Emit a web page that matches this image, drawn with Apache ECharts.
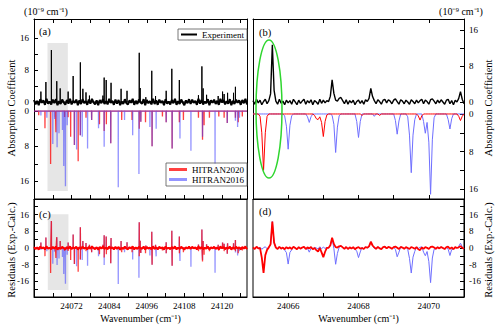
<!DOCTYPE html>
<html>
<head>
<meta charset="utf-8"/>
<script src="https://cdn.jsdelivr.net/npm/echarts@6/dist/echarts.min.js"></script>
<style>
  html, body { margin: 0; padding: 0; background: #fff; }
  #chart { width: 500px; height: 329px; }
</style>
</head>
<body>
<div id="chart"></div>
<script type="text/javascript">
// ---- data ----
// overview (panels a, c): line centre (cm-1) and height (1e-9 cm-1)
var expPeaksA = [[24062.2,2.6],[24063.8,5.0],[24065.55,13.0],[24067.27,5.2],[24068.36,3.4],[24070.9,2.6],
  [24072.5,6.5],[24074.8,9.9],[24075.6,3.3],[24076.6,2.4],[24077.7,1.6],[24082.0,1.6],[24082.4,6.1],
  [24083.05,5.5],[24084.6,4.8],[24087.8,3.3],[24089.7,2.8],[24093.6,12.3],[24093.9,3.5],[24095.7,1.2],
  [24097.6,7.8],[24098.8,1.5],[24102.2,2.8],[24104.0,8.3],[24106.4,5.5],[24112.5,1.7],[24113.6,8.9],
  [24114.0,3.4],[24115.1,1.8],[24118.8,1.5],[24120.2,2.6],[24120.7,2.0],[24121.8,2.3],[24123.7,2.3],[24124.3,3.8]];
var hit20A = [[24061.5,0.9],[24063.5,3.9],[24065.3,12.0],[24066.82,1.3],[24067.0,4.8],[24069.77,1.3],[24070.89,1.4],
  [24071.7,5.8],[24072.9,7.7],[24074.1,11.4],[24074.8,5.5],[24076.6,1.5],[24078.4,2.0],[24080.9,3.0],[24082.4,4.5],
  [24083.1,3.0],[24084.5,7.3],[24088.0,2.0],[24091.3,2.0],[24093.6,4.0],[24094.1,2.4],[24095.6,2.5],[24097.7,8.0],
  [24101.0,1.2],[24102.2,2.5],[24104.1,8.5],[24106.4,2.5],[24107.7,2.0],[24112.5,1.5],[24113.8,6.5],[24114.3,3.2],
  [24116.0,1.5],[24119.0,1.2],[24120.7,1.5],[24121.7,2.7],[24124.3,1.5],[24125.2,2.5],[24126.5,1.2]];
var hit16A = [[24062.2,1.0],[24064.1,1.5],[24066.0,7.5],[24066.6,1.8],[24067.37,8.2],[24067.98,5.0],[24069.09,4.3],
  [24069.5,12.5],[24069.89,4.1],[24070.04,17.1],[24070.6,3.2],[24072.9,7.7],[24073.6,8.7],[24074.8,5.5],[24075.4,5.8],
  [24077.1,8.5],[24078.4,2.0],[24080.6,3.9],[24082.4,8.1],[24084.5,7.3],[24086.9,17.3],[24088.9,2.0],[24091.5,5.5],
  [24093.5,14.3],[24094.1,2.4],[24097.0,3.6],[24097.7,8.0],[24099.0,4.0],[24102.2,2.5],[24104.1,8.5],[24106.6,6.2],
  [24110.1,9.0],[24113.8,5.8],[24117.8,11.9],[24121.7,2.7],[24124.3,2.2],[24125.0,3.6],[24125.6,1.5]];
// experimental baseline noise, every 0.5 cm-1 from 24060
var noiseA = [
  0.5,-0.6,0.3,-0.8,0.7,-0.2,0.4,-0.7,0.8,-0.4,0.1,-0.6,0.6,-0.3,0.7,-0.8,0.2,-0.5,0.6,-0.1,
  -0.7,0.5,-0.4,0.8,-0.6,0.3,-0.2,0.6,-0.8,0.4,-0.5,0.7,-0.3,0.2,-0.7,0.6,-0.4,0.8,-0.1,-0.6,
  0.4,-0.8,0.5,-0.3,0.7,-0.5,0.2,-0.6,0.8,-0.2,0.3,-0.7,0.6,-0.4,0.5,-0.8,0.1,-0.5,0.7,-0.3,
  -0.6,0.4,-0.2,0.8,-0.7,0.3,-0.5,0.6,-0.1,-0.4,0.7,-0.8,0.5,-0.3,0.2,-0.6,0.8,-0.5,0.4,-0.7,
  0.6,-0.2,0.3,-0.8,0.7,-0.4,0.1,-0.6,0.5,-0.3,0.8,-0.7,0.2,-0.5,0.6,-0.1,-0.8,0.4,-0.3,0.7,
  -0.5,0.6,-0.2,0.3,-0.7,0.8,-0.4,0.5,-0.6,0.1,-0.3,0.7,-0.8,0.4,-0.2,0.6,-0.5,0.3,-0.7,0.8,
  -0.1,0.5,-0.6,0.2,-0.4,0.7,-0.8,0.3,-0.5,0.6,-0.2,0.4,-0.7,0.5,-0.3,0.8,-0.6];

// zoom (panels b, d): sampled every 0.05 cm-1 from 24065
var expB = [
  0.3,-0.5,0.6,-0.2,0.4,-0.6,0.1,0.6,-0.4,0.3,1.8,12.7,2.6,0.2,-0.5,0.6,-0.3,0.2,-0.6,0.4,
  -0.2,0.3,-0.5,0.6,0.0,-0.6,0.4,-0.3,0.2,0.6,-0.5,0.3,-0.2,0.5,-0.6,0.3,0.0,-0.5,0.6,-0.3,
  0.4,-0.2,0.3,0.1,1.3,4.9,1.9,0.4,0.2,0.8,1.0,0.3,-0.4,0.5,-0.5,0.3,-0.2,0.4,-0.6,0.1,
  0.4,-0.3,0.3,-0.5,0.5,0.1,0.8,3.0,1.2,0.3,-0.4,0.5,0.1,-0.5,0.4,0.6,-0.2,0.5,0.2,-0.4,
  0.4,0.7,0.1,-0.5,0.5,0.2,-0.4,0.4,0.0,-0.5,0.5,0.1,-0.4,0.4,-0.2,0.3,0.6,-0.4,0.4,0.1,
  -0.5,0.5,0.7,0.2,-0.4,0.4,-0.2,0.5,0.0,-0.5,0.4,0.6,-0.4,0.3,-0.6,0.4,0.0,0.8,2.3,0.6,
  -0.4];
var hit20B = [
  0,0,0,0,0.5,4.0,12.0,4.0,0.5,0,0,0,0,0,0,0,0,0,0,0,
  0,0,0,0,0,0,0,0,0,0,0,0,0,0,0,0.3,1.0,1.2,0.6,1.8,
  4.8,1.6,0.2,0,0,0,0,0,0,0,0,0,0,0,0,0,0,0,0,0,
  0,0,0.3,0,0,0,0,0,0,0,0,0,0.3,0,0,0,0,0,0,0,
  0,0,0,0,0,0,0,0,0,0,0,0,0,0,0.4,1.3,0.4,0,0,0,
  0,0,0,0,0,0,0,0,0,0,0,0,0,0,0,0,0,0.5,1.4,0.5,
  0];
var hit16B = [
  0,0,0,0,0,0,0,0,0,0,0,0,0,0,0,0,0,0,0.4,2.6,
  7.5,2.4,0.4,0,0,0,0,0,0,0,0,0.6,1.8,0.6,0,0,0,0,0,0,
  0,0,0,0,0,0.3,2.2,8.2,2.8,0.4,0,0,0,0,0,0,0,0,0,1.6,
  5.0,1.6,0,0,0,0,0,0,0,0.5,0,0,0,0,0,0,0,0,0,0,
  0,1.4,4.3,1.5,0,0,0,0,0.6,4.5,12.5,4.5,1.2,0,0,0,0,1.6,4.1,1.8,
  6.0,17.1,5.5,0.8,0,0,0,0,0,0,0,1.2,3.2,1.0,0,0,0,0,0,0,
  0];

// axis ranges and ticks
var xMinA = 24060, xMaxA = 24128, noiseStep = 0.5;
var xMinB = 24065, xMaxB = 24071, stepB = 0.05;
var xTicksA = [24066, 24072, 24078, 24084, 24090, 24096, 24102, 24108, 24114, 24120, 24126];
var xLabelsA = [24072, 24084, 24096, 24108, 24120];
var xTicksB = [24066, 24067, 24068, 24069, 24070];
var xLabelsB = [24066, 24068, 24070];
var yTicksAbs = [0, 4, 8, 12, 16];
var yLabelsAbs = [0, 8, 16];
var yTicksRes = [-20, -16, -12, -8, -4, 0, 4, 8, 12, 16, 20];
var yLabelsRes = [-16, -8, 0, 8, 16];

// ---- helpers ----
var FONT = 'Liberation Serif';
var RED_A = 'rgba(255,0,0,0.75)';
var BLUE_A = 'rgba(60,60,255,0.55)';
var RED = '#ff0000';
var BLUE = '#6f6fff';

function sticks(list, from, to) {
    var pts = [[from, 0]];
    list.slice().sort(function (a, b) { return a[0] - b[0]; }).forEach(function (p) {
        pts.push([p[0] - 0.03, 0], [p[0], p[1]], [p[0] + 0.03, 0]);
    });
    pts.push([to, 0]);
    return pts;
}
function negate(list) {
    return list.map(function (p) { return [p[0], -p[1]]; });
}
function sampled(values, x0, step) {
    return values.map(function (v, i) { return [+(x0 + i * step).toFixed(2), v]; });
}
function diff(a, b) {
    return a.map(function (v, i) { return +(v - b[i]).toFixed(2); });
}
function plain(v) { return String(v); }

function xAx(grid, pos, min, max, ticks, labels, withName) {
    return {
        type: 'value', gridIndex: grid, position: pos, min: min, max: max,
        axisLine: {show: true, onZero: false, lineStyle: {color: '#000', width: 1}},
        axisTick: {show: true, inside: true, length: 4, customValues: ticks, lineStyle: {color: '#000'}},
        axisLabel: labels ? {show: true, customValues: labels, formatter: plain,
                             fontFamily: FONT, fontSize: 9, color: '#000', margin: 4}
                          : {show: false},
        splitLine: {show: false},
        name: withName ? 'Wavenumber (cm\u207B\u00B9)' : '',
        nameLocation: 'middle', nameGap: 16,
        nameTextStyle: {fontFamily: FONT, fontSize: 10, color: '#000'}
    };
}
function yAx(grid, pos, min, max, inverse, ticks, labels) {
    return {
        type: 'value', gridIndex: grid, position: pos, min: min, max: max, inverse: !!inverse,
        axisLine: {show: true, onZero: false, lineStyle: {color: '#000', width: 1}},
        axisTick: ticks ? {show: true, inside: true, length: 4, customValues: ticks, lineStyle: {color: '#000'}}
                        : {show: false},
        axisLabel: labels ? {show: true, customValues: labels, formatter: plain,
                             fontFamily: FONT, fontSize: 9, color: '#000', margin: 5}
                          : {show: false},
        splitLine: {show: false}
    };
}
function line(name, xi, yi, data, color, width, z) {
    return {
        name: name, type: 'line', xAxisIndex: xi, yAxisIndex: yi, data: data,
        symbol: 'none', lineStyle: {color: color, width: width}, itemStyle: {color: color},
        z: z || 3, silent: true
    };
}
function shade(xi, yi, x0, y0, x1, y1) {
    return {
        type: 'line', xAxisIndex: xi, yAxisIndex: yi, data: [], z: 1, silent: true,
        markArea: {silent: true, itemStyle: {color: '#e6e6e6'},
                   data: [[{xAxis: x0, yAxis: y0}, {xAxis: x1, yAxis: y1}]]}
    };
}
function txt(s, x, y, size, rot, align) {
    return {
        type: 'text', x: x, y: y, rotation: rot || 0, z: 50, silent: true,
        style: {text: s, fill: '#000', font: size + 'px "Liberation Serif"',
                align: align || 'center', textAlign: align || 'center',
                verticalAlign: 'middle', textVerticalAlign: 'middle'}
    };
}

var chart = echarts.init(document.getElementById('chart'), null, {renderer: 'svg'});

var option = {
    animation: false,
    backgroundColor: '#fff',
    grid: [
        {left: 34, top: 19, width: 213, height: 90, outerBoundsMode: 'none'},   // a: experiment
        {left: 34, top: 109, width: 213, height: 90, outerBoundsMode: 'none'},  // a: HITRAN
        {left: 253, top: 19, width: 211, height: 90, outerBoundsMode: 'none'},  // b: experiment
        {left: 253, top: 109, width: 211, height: 90, outerBoundsMode: 'none'}, // b: HITRAN
        {left: 34, top: 199, width: 213, height: 98, show: true, borderColor: '#000', borderWidth: 1, outerBoundsMode: 'none'},
        {left: 253, top: 199, width: 211, height: 98, show: true, borderColor: '#000', borderWidth: 1, outerBoundsMode: 'none'}
    ],
    xAxis: [
        xAx(0, 'top', xMinA, xMaxA, xTicksA, null, false),
        xAx(1, 'bottom', xMinA, xMaxA, xTicksA, null, false),
        xAx(2, 'top', xMinB, xMaxB, xTicksB, null, false),
        xAx(3, 'bottom', xMinB, xMaxB, xTicksB, null, false),
        xAx(4, 'bottom', xMinA, xMaxA, xTicksA, xLabelsA, true),
        xAx(5, 'bottom', xMinB, xMaxB, xTicksB, xLabelsB, true)
    ],
    yAxis: [
        yAx(0, 'left', -1.75, 20.75, false, yTicksAbs, yLabelsAbs),
        yAx(0, 'right', -1.75, 20.75, false, null, null),
        yAx(1, 'left', -0.5, 20, true, yTicksAbs, yLabelsAbs),
        yAx(1, 'right', -0.5, 20, true, null, null),
        yAx(2, 'left', -1.56, 18.44, false, null, null),
        yAx(2, 'right', -1.56, 18.44, false, yTicksAbs, yLabelsAbs),
        yAx(3, 'left', -1.06, 18.1, true, null, null),
        yAx(3, 'right', -1.06, 18.1, true, yTicksAbs, yLabelsAbs),
        yAx(4, 'left', -23.5, 23.5, false, yTicksRes, yLabelsRes),
        yAx(5, 'right', -23.5, 23.5, false, yTicksRes, yLabelsRes)
    ],
    legend: [
        {
            data: ['Experiment'], left: 178, top: 29, icon: 'rect', itemWidth: 16, itemHeight: 2,
            padding: [1, 3], borderColor: '#555', borderWidth: 0.8, selectedMode: false,
            textStyle: {fontFamily: FONT, fontSize: 9, color: '#000'}
        },
        {
            data: ['HITRAN2020', 'HITRAN2016'], orient: 'vertical', left: 166, top: 163,
            icon: 'rect', itemWidth: 18, itemHeight: 3, itemGap: 1,
            padding: [2, 3], borderColor: '#555', borderWidth: 0.8, selectedMode: false,
            textStyle: {fontFamily: FONT, fontSize: 9, color: '#000'}
        }
    ],
    series: [
        // (a)
        shade(0, 0, 24064.3, 14.75, 24070.8, -1.75),
        shade(1, 2, 24064.3, -0.5, 24070.8, 18.2),
        line('Experiment', 0, 0, sampled(noiseA, xMinA, noiseStep), '#000', 2),
        line('Experiment', 0, 0, sticks(expPeaksA, xMinA, xMaxA), '#000', 1),
        line('HITRAN2020', 1, 2, sticks(hit20A, xMinA, xMaxA), RED_A, 1.3),
        line('HITRAN2016', 1, 2, sticks(hit16A, xMinA, xMaxA), BLUE_A, 1.3),
        // (b)
        line('Experiment', 2, 5, sampled(expB, xMinB, stepB), '#000', 1.4),
        line('HITRAN2016', 3, 7, sampled(hit16B, xMinB, stepB), BLUE, 1),
        line('HITRAN2020', 3, 7, sampled(hit20B, xMinB, stepB), RED, 1),
        // (c) residuals = experiment - calculation
        shade(4, 8, 24064.4, 16.2, 24071.0, -20.2),
        line('res16', 4, 8, sticks(expPeaksA.concat(negate(hit16A)), xMinA, xMaxA), BLUE_A, 1.3),
        line('res20', 4, 8, sampled(noiseA, xMinA, noiseStep), RED, 1.9),
        line('res20', 4, 8, sticks(expPeaksA.concat(negate(hit20A)), xMinA, xMaxA), RED_A, 1.3),
        // (d)
        line('res16', 5, 9, sampled(diff(expB, hit16B), xMinB, stepB), BLUE, 1),
        line('res20', 5, 9, sampled(diff(expB, hit20B), xMinB, stepB), RED, 1.8)
    ],
    graphic: [
        {type: 'ellipse', shape: {cx: 269, cy: 109, rx: 13, ry: 69}, z: 60, silent: true,
         style: {fill: 'none', stroke: '#2fd62f', lineWidth: 1.5}},
        txt('(10\u207B\u2079 cm\u207B\u00B9)', 46, 11, 10),
        txt('(10\u207B\u2079 cm\u207B\u00B9)', 461, 11, 10),
        txt('Absorption Coefficient', 11, 108, 10.5, Math.PI / 2),
        txt('Residuals (Exp.-Calc.)', 11, 250, 10.5, Math.PI / 2),
        txt('Absorption Coefficient', 488, 108, 10.5, Math.PI / 2),
        txt('Residuals (Exp.-Calc.)', 488, 250, 10.5, Math.PI / 2),
        txt('(a)', 39, 31, 10.5, 0, 'left'),
        txt('(b)', 259, 32, 10.5, 0, 'left'),
        txt('(c)', 39, 214, 10.5, 0, 'left'),
        txt('(d)', 259, 211, 10.5, 0, 'left')
    ]
};

chart.setOption(option);
</script>
</body>
</html>
